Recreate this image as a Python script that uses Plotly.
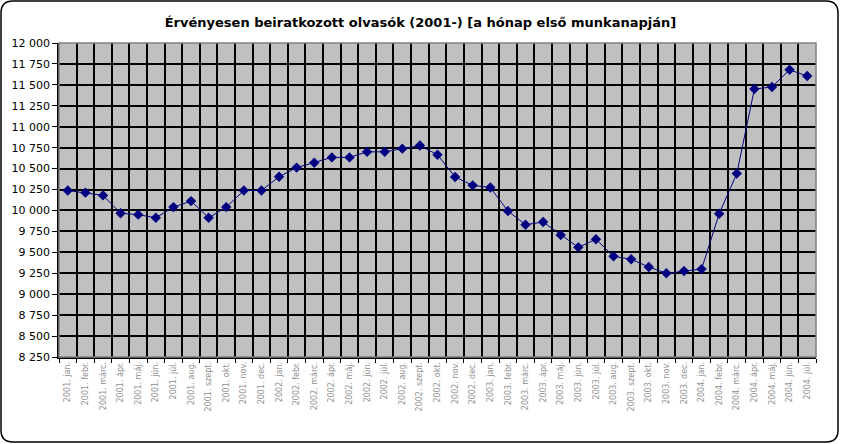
import plotly.graph_objects as go

# honapok (2001. jan. - 2004. júl.)
honapok = ["jan.", "febr.", "márc.", "ápr.", "máj.", "jún.",
           "júl.", "aug.", "szept.", "okt.", "nov.", "dec."]
evek = [2001, 2002, 2003, 2004]
cimkek = [f"{ev}. {h}" for ev in evek for h in honapok][:43]

# olvasok szama a honap elso munkanapjan
olvasok = [10238, 10213, 10180, 9966, 9950, 9913, 10040, 10112, 9913, 10040, 10238, 10238,
           10403, 10512, 10570, 10634, 10634, 10700, 10700, 10738, 10775, 10665, 10400, 10300,
           10274, 9993, 9830, 9862, 9706, 9560, 9657, 9452, 9418, 9325, 9250, 9277,
           9300, 9960, 10440, 11450, 11475, 11680, 11605]

y_ticks = list(range(8250, 12001, 250))

W, H = 841, 444
L, R, T, B = 59, 25, 43, 87
pw, ph = W - L - R, H - T - B

def px(x):
    return (x - L) / pw

def py(y):
    return (H - B - y) / ph

# lekerekitett keret a diagram korul
r = 12
x0, x1, y0, y1 = 1, 838, 1, 442
keret = (f"M {px(x0 + r)} {py(y0)} L {px(x1 - r)} {py(y0)} "
         f"Q {px(x1)} {py(y0)} {px(x1)} {py(y0 + r)} "
         f"L {px(x1)} {py(y1 - r)} Q {px(x1)} {py(y1)} {px(x1 - r)} {py(y1)} "
         f"L {px(x0 + r)} {py(y1)} Q {px(x0)} {py(y1)} {px(x0)} {py(y1 - r)} "
         f"L {px(x0)} {py(y0 + r)} Q {px(x0)} {py(y0)} {px(x0 + r)} {py(y0)} Z")

fig = go.Figure()
fig.add_trace(go.Scatter(
    x=cimkek, y=olvasok, mode="lines+markers",
    line=dict(color="#000080", width=1),
    marker=dict(symbol="diamond", size=8, color="#000080"),
    showlegend=False))

fig.update_layout(
    template="none",
    width=W, height=H,
    margin=dict(l=L, r=R, t=T, b=B, autoexpand=False),
    paper_bgcolor="white",
    plot_bgcolor="#C0C0C0",
    separators=", ",
    title=dict(text="<b>Érvényesen beiratkozott olvasók (2001-) [a hónap első munkanapján]</b>",
               x=0.5, xref="container", xanchor="center", y=1 - 22 / H, yanchor="middle",
               font=dict(family="DejaVu Sans", size=13, color="black")),
    xaxis=dict(type="category", range=[-0.5, len(cimkek) - 0.5], tickson="boundaries",
               showgrid=True, gridcolor="black", gridwidth=2, ticks="outside", ticklen=4,
               tickcolor="black", tickangle=-90, showline=True, linecolor="black",
               linewidth=1.5, automargin=False, zeroline=False,
               tickfont=dict(family="DejaVu Sans", size=8, color="#909090")),
    yaxis=dict(range=[8250, 12000], tickvals=y_ticks, tickformat=",d",
               showgrid=True, gridcolor="black", gridwidth=2, ticks="outside",
               ticklen=5, tickcolor="black", showline=True, linecolor="black",
               linewidth=1.5, automargin=False, zeroline=False,
               tickfont=dict(family="DejaVu Sans", size=11, color="black")),
    shapes=[
        dict(type="rect", xref="paper", yref="paper", x0=0, x1=1, y0=0, y1=1,
             line=dict(color="#808080", width=1.5), layer="above"),
        dict(type="path", xref="paper", yref="paper", path=keret,
             line=dict(color="black", width=1.5)),
    ],
)

fig.write_html("out.html", config={"displayModeBar": False},
               post_script="document.body.style.margin='0';")
